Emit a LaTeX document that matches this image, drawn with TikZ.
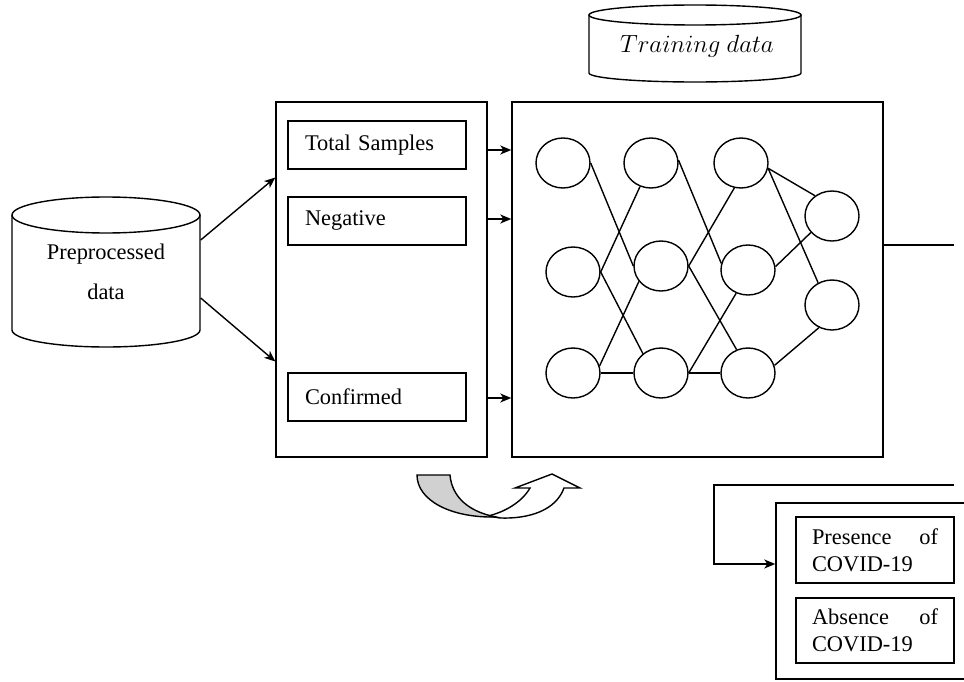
\documentclass[tikz,border=0pt]{standalone}
\usepackage{fontspec}
\setmainfont{Liberation Serif}
\usetikzlibrary{arrows.meta,shapes.geometric}
\begin{document}
\begin{tikzpicture}[x=1pt,y=-1pt,line width=1.4pt,
  every node/.style={font=\fontsize{22.4}{27}\selectfont},
  arr/.style={-{Stealth[length=11pt,width=9pt,inset=3pt]}},
  box/.style={draw,rectangle,inner sep=0pt},
  item/.style={draw,rectangle,minimum width=178pt,minimum height=48pt,text width=144pt,inner xsep=17pt,inner ysep=0pt,align=left},
  outitem/.style={draw,rectangle,minimum width=158pt,minimum height=66pt,text width=126pt,inner xsep=16pt,inner ysep=0pt,align=left},
  neuron/.style={draw,ellipse,minimum width=54pt,minimum height=50pt,inner sep=0pt}]
\clip (0,0) rectangle (964,682);
% training data cylinder
\draw (695,15) ellipse [x radius=106pt, y radius=10pt];
\draw (589,15) -- (589,73) arc [start angle=180,end angle=360,x radius=106pt,y radius=9pt] -- (801,15);
\node[font=\fontsize{25}{30}\selectfont] (train) at (697,46) {$Training\ data$};
% preprocessed cylinder
\draw (106,215) ellipse [x radius=94pt,y radius=18pt];
\draw (12,215) -- (12,330) arc [start angle=180,end angle=360,x radius=94pt,y radius=17pt] -- (200,215);
\node[minimum width=188pt,minimum height=150pt,inner sep=0pt,align=center] (pre) at (106,272) {Preprocessed\\[13pt]data};
% boxes
\node[box,minimum width=211pt,minimum height=355pt] (lbox) at (381.5,279.5) {};
\node[box,minimum width=371pt,minimum height=355pt] (nn) at (697.5,279.5) {};
\node[item] (ts) at (377,145) {Total Samples};
\node[item] (neg) at (377,221) {Negative};
\node[item] (conf) at (377,397) {Confirmed};
\draw[arr] ([yshift=32pt]pre.east) -- ([yshift=102pt]lbox.west);
\draw[arr] ([yshift=-26pt]pre.east) -- ([yshift=-82pt]lbox.west);
\path (ts.east) ++(0,5) coordinate (tsy);
\path (neg.east) ++(0,-2) coordinate (negy);
\path (conf.east) ++(0,1) coordinate (confy);
\draw[arr] (tsy -| lbox.east) -- (tsy -| nn.west);
\draw[arr] (negy -| lbox.east) -- (negy -| nn.west);
\draw[arr] (confy -| lbox.east) -- (confy -| nn.west);
% neurons
\node[neuron] (n11) at (563,163) {};
\node[neuron] (n12) at (573,272) {};
\node[neuron] (n13) at (573,373) {};
\node[neuron] (n21) at (651,163) {};
\node[neuron] (n22) at (661,266) {};
\node[neuron] (n23) at (661,373) {};
\node[neuron] (n31) at (741,163) {};
\node[neuron] (n32) at (748,270) {};
\node[neuron] (n33) at (748,373) {};
\node[neuron] (n41) at (832,216) {};
\node[neuron] (n42) at (832,305) {};
\draw (n11.east) -- (n22.west);
\draw (n12.east) -- (n21.245);
\draw (n12.east) -- (n23.133);
\draw (n13.15) -- (n22.215);
\draw (n13.east) -- (n23.west);
\draw (n21.6) -- (n32.166);
\draw (n22.east) -- (n31.255);
\draw (n22.east) -- (n33.116);
\draw (n23.east) -- (n32.243);
\draw (n23.east) -- (n33.west);
\draw (n31.349) -- (n41.130);
\draw (n31.349) -- (n42.122);
\draw (n32.7) -- (n41.218);
\draw (n33.16) -- (n42.240);
% nn output line
\coordinate (nnout) at (954,245);
\draw (nn.east |- nnout) -- (nnout);
% output
\node[box,minimum width=224pt,minimum height=176pt] (obox) at (888,591) {};
\node[outitem] (pres) at (875,550) {Presence\hfill of\\COVID-19};
\node[outitem,minimum height=65pt] (abs) at (875,630.5) {Absence\hfill of\\COVID-19};
\coordinate (fbA) at (954,485);
\coordinate (fbB) at (714,485);
\draw[arr] (fbA) -- (fbB) |- ([yshift=27pt]obox.west);
% curved arrow
\draw[fill=white] (488,516) .. controls (505,512) and (522,502) .. (530,488) -- (515,488) -- (552,474) -- (580,488) -- (564,488) .. controls (556,510) and (530,519) .. (500,518) -- cycle;
\draw[fill=black!18] (417,475) -- (450,475) .. controls (452,498) and (470,512) .. (496,517) .. controls (450,518) and (417,500) .. (417,475) -- cycle;
\end{tikzpicture}
\end{document}
